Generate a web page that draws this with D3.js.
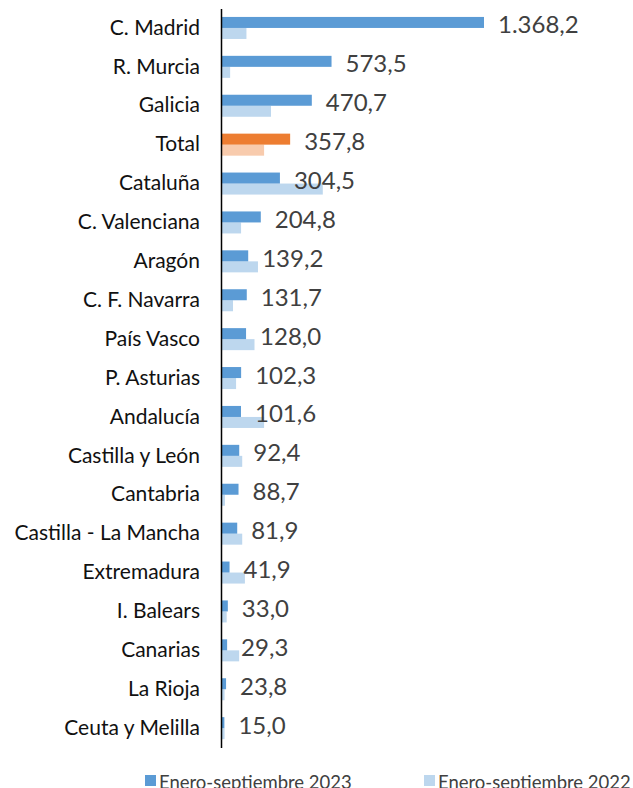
<!DOCTYPE html>
<html><head><meta charset="utf-8">
<script src="https://cdn.jsdelivr.net/npm/d3@7"></script>
<style>body{margin:0;background:#fff}svg{display:block}</style>
</head><body>
<svg id="c" width="633" height="788"></svg>
<script>
const categories = ["C. Madrid","R. Murcia","Galicia","Total","Cataluña","C. Valenciana","Aragón","C. F. Navarra","País Vasco","P. Asturias","Andalucía","Castilla y León","Cantabria","Castilla - La Mancha","Extremadura","I. Balears","Canarias","La Rioja","Ceuta y Melilla"];
const values2023 = [1368.2,573.5,470.7,357.8,304.5,204.8,139.2,131.7,128.0,102.3,101.6,92.4,88.7,81.9,41.9,33.0,29.3,23.8,15.0];
const values2022 = [130,45,258,222,528,102,190,60,172,76,222,108,18,108,122,27,92,16,16];
const valueLabels = ["1.368,2","573,5","470,7","357,8","304,5","204,8","139,2","131,7","128,0","102,3","101,6","92,4","88,7","81,9","41,9","33,0","29,3","23,8","15,0"];
const seriesNames = ["Enero-septiembre 2023","Enero-septiembre 2022"];

const svg = d3.select("#c");
const x0 = 221.5;
const x = d3.scaleLinear().domain([0, 1368.2]).range([x0, x0 + 262.5]);
const y = d3.scaleBand().domain(categories).range([8.5, 747.6]).paddingInner(0.434).paddingOuter(0.217);
const ys = d3.scaleBand().domain(["a","b"]).range([0, y.bandwidth()]);
const col23 = c => c === "Total" ? "#ED7D31" : "#5B9BD5";
const col22 = c => c === "Total" ? "#F8CBAD" : "#BDD7EE";

const data = categories.map((c,i)=>({c, v23: values2023[i], v22: values2022[i], lab: valueLabels[i]}));

const g = svg.append("g");
g.selectAll("rect.b22").data(data).join("rect")
  .attr("x", x(0)).attr("y", d => y(d.c) + ys("b"))
  .attr("width", d => x(d.v22) - x(0)).attr("height", ys.bandwidth())
  .attr("fill", d => col22(d.c));
g.selectAll("rect.b23").data(data).join("rect")
  .attr("x", x(0)).attr("y", d => y(d.c) + ys("a"))
  .attr("width", d => x(d.v23) - x(0)).attr("height", ys.bandwidth())
  .attr("fill", d => col23(d.c));

g.selectAll("text.v").data(data).join("text")
  .attr("x", d => x(d.v23) + 14)
  .attr("y", d => y(d.c) + y.bandwidth()/2 - 4)
  .attr("dominant-baseline", "central")
  .attr("font-family", "Lato, sans-serif").attr("font-size", 24)
  .attr("fill", "#404040").text(d => d.lab);

const ax = svg.append("g").attr("transform", `translate(${x0 - 0.5},0)`)
  .call(d3.axisLeft(y).tickSize(0).tickSizeOuter(0).tickPadding(21));
ax.select(".domain").attr("stroke", "#000").attr("stroke-width", 1.5);
ax.selectAll(".tick text").attr("font-family", "Lato, sans-serif").attr("font-size", 21).attr("fill", "#111");

const leg = svg.append("g");
const lx = [145, 424];
seriesNames.forEach((s,i)=>{
  leg.append("rect").attr("x", lx[i]).attr("y", 775).attr("width", 11).attr("height", 11).attr("fill", i===0 ? "#5B9BD5" : "#BDD7EE");
  leg.append("text").attr("x", lx[i] + 14).attr("y", 788.5).attr("font-family", "Lato, sans-serif").attr("font-size", 18.5).attr("fill", "#404040").text(s);
});
</script>
</body></html>
